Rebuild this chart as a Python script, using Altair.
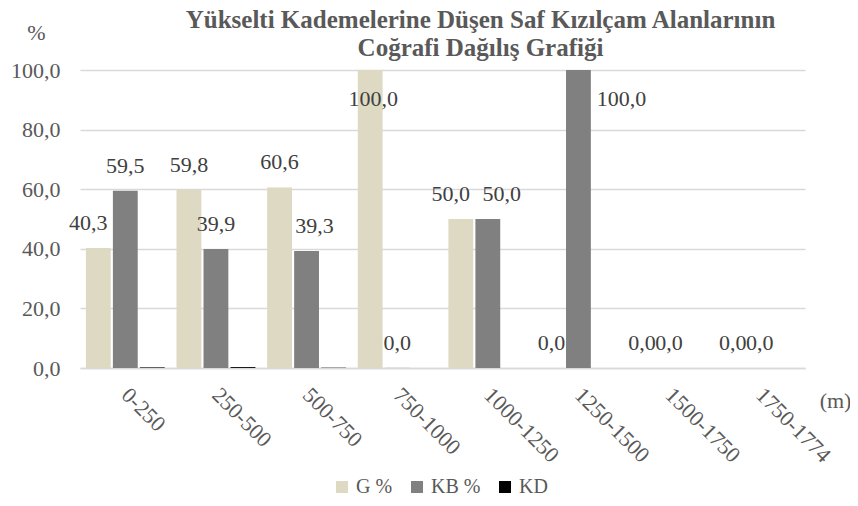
import altair as alt
import pandas as pd

categories = ["0-250", "250-500", "500-750", "750-1000", "1000-1250",
              "1250-1500", "1500-1750", "1750-1774"]
series = ["G %", "KB %", "KD"]
g_values = [40.3, 59.8, 60.6, 100.0, 50.0, 0.0, 0.0, 0.0]
kb_values = [59.5, 39.9, 39.3, 0.04, 50.0, 100.0, 0.0, 0.0]
kd_values = [0.2, 0.3, 0.1, 0.0, 0.0, 0.0, 0.0, 0.0]
colors = ["#DDD9C3", "#808080", "#000000"]
y_ticks = [0, 20, 40, 60, 80, 100]
title_lines = ["Yükselti Kademelerine Düşen Saf Kızılçam Alanlarının",
               "Coğrafi Dağılış Grafiği"]

rows = []
for s, vals in zip(series, [g_values, kb_values, kd_values]):
    for c, v in zip(categories, vals):
        rows.append({"cat": c, "series": s, "value": v})
df = pd.DataFrame(rows)

FONT = "Liberation Serif"
TXT = "#595959"
LBL = "#404040"
FS = 22

x_enc = alt.X(
    "cat:N", sort=categories,
    scale=alt.Scale(paddingInner=0.13, paddingOuter=0.065),
    axis=alt.Axis(
        title="(m)", labelAngle=45, labelAlign="left", labelBaseline="middle",
        labelFont=FONT, labelFontSize=FS, labelColor=TXT, labelPadding=23,
        labelOffset=0, ticks=False, domainColor="#D9D9D9", domainWidth=1.5,
        titleFont=FONT, titleFontSize=FS, titleFontWeight="normal", titleColor=TXT,
        titleX=755, titleY=32, titleAlign="center", titleBaseline="middle",
    ),
)
xoff_enc = alt.XOffset("series:N", sort=series, scale=alt.Scale(paddingInner=0.08))
y_enc = alt.Y(
    "value:Q",
    scale=alt.Scale(domain=[0, 100]),
    axis=alt.Axis(
        values=y_ticks, labelExpr="replace(format(datum.value, '.1f'), '.', ',')",
        labelFont=FONT, labelFontSize=FS, labelColor=TXT, labelPadding=20,
        grid=True, gridColor="#D9D9D9", gridWidth=1.5, domain=False, ticks=False,
        title="%", titleAngle=0, titleFont=FONT, titleFontSize=FS,
        titleFontWeight="normal", titleColor=TXT, titleX=-44, titleY=-38,
        titleAlign="center", titleBaseline="middle",
    ),
)

base = alt.Chart(df).encode(x=x_enc, xOffset=xoff_enc, y=y_enc)

bars = base.mark_bar().encode(
    color=alt.Color(
        "series:N", sort=series,
        scale=alt.Scale(domain=series, range=colors),
        legend=alt.Legend(
            title=None, orient="none", legendX=252, legendY=407,
            direction="horizontal", symbolType="square", symbolSize=144,
            symbolStrokeWidth=0, labelFont=FONT, labelFontSize=20,
            labelColor=TXT, columnPadding=14, labelOffset=4,
        ),
    )
)

label_calc = "replace(format(datum.value, '.1f'), '.', ',')"

# label placement nudges (dx in px) for labels that would collide
nudges = {
    -10: "(datum.series == 'G %' && (datum.cat == '0-250' || datum.cat == '1000-1250'))",
    8: "(datum.series == 'KB %' && datum.cat == '500-750')",
    14: "(datum.series == 'KB %' && datum.cat == '1000-1250')",
}
nudged_any = " || ".join(nudges.values())


def label_layer(cond, dx=0, dy=-25):
    return base.transform_filter(cond).transform_calculate(
        lab=label_calc
    ).mark_text(
        dx=dx, dy=dy, baseline="middle", font=FONT, fontSize=FS, color=LBL
    ).encode(text="lab:N")


layers = [bars,
          label_layer(f"datum.series != 'KD' && datum.value < 100 && !({nudged_any})")]
for dx, cond in nudges.items():
    layers.append(label_layer(cond, dx=dx))
layers.append(label_layer("datum.series == 'G %' && datum.value >= 100", dx=3, dy=29))
layers.append(label_layer("datum.series == 'KB %' && datum.value >= 100", dx=43, dy=29))

chart = alt.layer(*layers).properties(
    width=725, height=298,
    autosize=alt.AutoSizeParams(type="none"),
    padding={"left": 72, "top": 62, "right": 45, "bottom": 128},
    title=alt.TitleParams(
        text=title_lines, font=FONT, fontSize=25, fontWeight="bold",
        color=TXT, anchor="middle", dx=38, lineHeight=28, offset=-40,
        frame="group",
    ),
).configure_view(stroke=None)

chart.save("out.html", embed_options={"renderer": "svg", "actions": False})
